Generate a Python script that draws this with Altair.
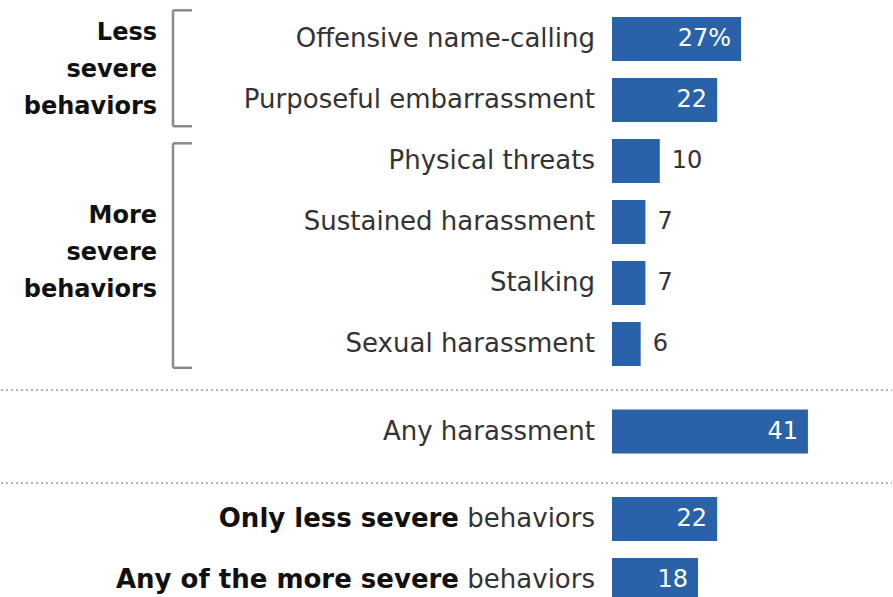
import altair as alt
import pandas as pd

# ---------------- data ----------------
main_rows = ["Offensive name-calling", "Purposeful embarrassment", "Physical threats",
             "Sustained harassment", "Stalking", "Sexual harassment"]
main_vals = [27, 22, 10, 7, 7, 6]

group_names = ["Less severe behaviors", "More severe behaviors"]
group_first = ["Offensive name-calling", "Physical threats"]
group_last = ["Purposeful embarrassment", "Sexual harassment"]
group_mid = ["Offensive name-calling", "Sustained harassment"]

any_rows = ["Any harassment"]
any_vals = [41]

bottom_rows = ["Only less severe", "Any of the more severe"]
bottom_suffix = ["behaviors", "behaviors"]
bottom_vals = [22, 18]

# ---------------- style ----------------
BLUE = "#2a62aa"
FONT = "DejaVu Sans"
LABEL_COLOR = "#333333"
STEP = 61
WIDTH = 281
XMAX = 58.8

xenc = alt.X("value:Q", axis=None, scale=alt.Scale(domain=[0, XMAX], nice=False, zero=True))


def frame(rows, vals, first_pct=False):
    labels = [f"{v}%" if (first_pct and i == 0) else str(v) for i, v in enumerate(vals)]
    return pd.DataFrame({"row": rows, "value": vals, "label": labels})


def yenc(field, order, bp=None, rng=None):
    kw = {}
    if bp is not None:
        kw["bandPosition"] = bp
    sc = dict(domain=order, paddingInner=0, paddingOuter=0)
    if rng is not None:
        sc["range"] = rng
    return alt.Y(f"{field}:N", axis=None, scale=alt.Scale(**sc), **kw)


def bar_layers(df, order, rng=None, clip=False):
    base = alt.Chart(df)
    bars = base.mark_bar(size=44, color=BLUE, clip=clip).encode(x=xenc, y=yenc("row", order, rng=rng))
    inside = base.transform_filter("datum.value >= 15").mark_text(
        align="right", baseline="middle", dx=-10, color="white", font=FONT, fontSize=24
    ).encode(x=xenc, y=yenc("row", order, rng=rng), text="label:N")
    outside = base.transform_filter("datum.value < 15").mark_text(
        align="left", baseline="middle", dx=12, color=LABEL_COLOR, font=FONT, fontSize=24
    ).encode(x=xenc, y=yenc("row", order, rng=rng), text="label:N")
    return [bars, inside, outside]


def row_labels(df, order):
    return alt.Chart(df).mark_text(
        align="right", baseline="middle", color=LABEL_COLOR, font=FONT, fontSize=26
    ).encode(x=alt.value(-17), y=yenc("row", order), text="row:N")


# ---------------- panel 1 ----------------
df1 = frame(main_rows, main_vals, first_pct=True)
gdf = pd.DataFrame({"group": group_names, "first": group_first, "last": group_last, "mid": group_mid})
bracket_pos = [(0.03, 0.93), (0.21, 0.89)]
extra = []
for i, (bt, bb) in enumerate(bracket_pos):
    g = alt.Chart(gdf).transform_filter(f"datum.group == '{group_names[i]}'")
    rule_style = dict(color="#8a8a8a", strokeWidth=2.5)
    extra.append(g.mark_rule(**rule_style).encode(
        x=alt.value(-439), y=yenc("first", main_rows, bp=bt),
        y2=alt.Y2("last:N", bandPosition=bb)))
    extra.append(g.mark_rule(**rule_style).encode(
        x=alt.value(-439), x2=alt.value(-420), y=yenc("first", main_rows, bp=bt)))
    extra.append(g.mark_rule(**rule_style).encode(
        x=alt.value(-439), x2=alt.value(-420), y=yenc("last", main_rows, bp=bb)))
grp_text = alt.Chart(gdf).mark_text(
    align="right", baseline="middle", color="#111111", font=FONT, fontSize=24,
    fontWeight="bold", lineBreak=" ", lineHeight=37, dy=-37
).encode(x=alt.value(-455), y=yenc("mid", main_rows, bp=1.0), text="group:N")

panel1 = alt.layer(*bar_layers(df1, main_rows), row_labels(df1, main_rows), *extra, grp_text).properties(
    width=WIDTH, height=STEP * len(main_rows))

# ---------------- panel 2 ----------------
df2 = frame(any_rows, any_vals)
sep = pd.DataFrame({"k": [0]})
dotted = dict(color="#999999", strokeWidth=1.5, strokeDash=[2, 3])
sep1 = alt.Chart(sep).mark_rule(**dotted).encode(x=alt.value(-611), x2=alt.value(WIDTH - 1), y=alt.value(-11))
sep2 = alt.Chart(sep).mark_rule(**dotted).encode(x=alt.value(-611), x2=alt.value(WIDTH - 1), y=alt.value(82))
panel2 = alt.layer(*bar_layers(df2, any_rows), row_labels(df2, any_rows), sep1, sep2).properties(
    width=WIDTH, height=STEP)

# ---------------- panel 3 ----------------
df3 = frame(bottom_rows, bottom_vals)
df3["suffix"] = bottom_suffix
rng3 = [0, STEP * len(bottom_rows)]
suffix_text = alt.Chart(df3).mark_text(
    align="right", baseline="middle", color=LABEL_COLOR, font=FONT, fontSize=26
).encode(x=alt.value(-17), y=yenc("row", bottom_rows, rng=rng3), text="suffix:N")
bold_text = alt.Chart(df3).mark_text(
    align="right", baseline="middle", color="#111111", font=FONT, fontSize=26, fontWeight="bold"
).encode(x=alt.value(-153), y=yenc("row", bottom_rows, rng=rng3), text="row:N")
panel3 = alt.layer(*bar_layers(df3, bottom_rows, rng=rng3, clip=True), suffix_text, bold_text).properties(
    width=WIDTH, height=108.5)

chart = alt.vconcat(panel1, panel2, panel3, spacing=26.5, bounds="flush").properties(
    padding={"top": 8.5, "left": 0, "right": 0, "bottom": 0},
    background="white",
).configure_view(stroke=None)

chart.save("out.html", embed_options={"renderer": "svg", "actions": False})
